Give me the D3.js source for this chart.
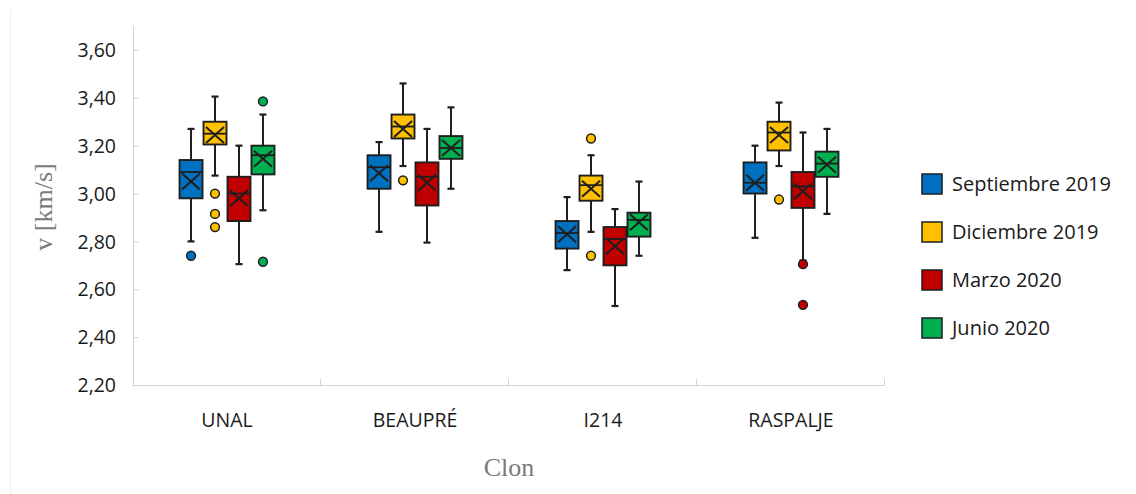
<!DOCTYPE html>
<html>
<head>
<meta charset="utf-8">
<script src="https://cdn.jsdelivr.net/npm/d3@7/dist/d3.min.js"></script>
<style>
  html, body { margin: 0; padding: 0; background: #fff; }
  svg { display: block; }
  .tick-label { font-family: "Open Sans", sans-serif; font-size: 19.5px; fill: #1a1a1a; }
  .legend-label { font-family: "Open Sans", sans-serif; font-size: 20px; fill: #1a1a1a; }
</style>
</head>
<body>
<svg id="chart" width="1136" height="494"></svg>
<script>
// Clones on the x axis
const categories = ["UNAL", "BEAUPRÉ", "I214", "RASPALJE"];
// Measurement campaigns (one box per campaign in each clone group)
const seriesNames = ["Septiembre 2019", "Diciembre 2019", "Marzo 2020", "Junio 2020"];
const seriesColors = ["#0070C0", "#FFC000", "#C00000", "#00B050"];

// Box statistics, rows = campaign, columns = clone (v in km/s)
const whiskerLow = [
  [2.80, 2.84, 2.68, 2.815],
  [3.075, 3.115, 2.84, 3.115],
  [2.705, 2.795, 2.53, 2.72],
  [2.93, 3.02, 2.74, 2.915]
];
const quartile1 = [
  [2.98, 3.02, 2.77, 3.00],
  [3.205, 3.23, 2.97, 3.18],
  [2.885, 2.95, 2.70, 2.94],
  [3.08, 3.145, 2.82, 3.07]
];
const medians = [
  [3.09, 3.11, 2.835, 3.045],
  [3.25, 3.28, 3.035, 3.255],
  [3.00, 3.07, 2.81, 3.03],
  [3.16, 3.19, 2.89, 3.125]
];
const quartile3 = [
  [3.14, 3.16, 2.885, 3.13],
  [3.30, 3.33, 3.075, 3.30],
  [3.07, 3.13, 2.86, 3.09],
  [3.20, 3.24, 2.92, 3.175]
];
const whiskerHigh = [
  [3.27, 3.215, 2.985, 3.20],
  [3.405, 3.46, 3.16, 3.38],
  [3.20, 3.27, 2.935, 3.255],
  [3.33, 3.36, 3.05, 3.27]
];
const means = [
  [3.05, 3.085, 2.83, 3.045],
  [3.245, 3.27, 3.02, 3.245],
  [2.98, 3.045, 2.78, 3.01],
  [3.145, 3.19, 2.88, 3.12]
];
const outliers = [
  [[2.74], [], [], []],
  [[3.00, 2.915, 2.86], [3.055], [3.23, 2.74], [2.975]],
  [[], [], [], [2.705, 2.535]],
  [[3.385, 2.715], [], [], []]
];
const yTickValues = [2.2, 2.4, 2.6, 2.8, 3.0, 3.2, 3.4, 3.6];

const svg = d3.select("#chart");
const W = 1136, H = 494;
const plot = { left: 133, right: 885, top: 26, bottom: 385 };

const x = d3.scaleBand().domain(categories).range([plot.left, plot.right]).padding(0);
const xInner = d3.scaleBand().domain(d3.range(seriesNames.length))
  .range([0, x.bandwidth()]).paddingInner(0).paddingOuter(1.92);
const y = d3.scaleLinear().domain([2.2, 3.7]).range([plot.bottom, plot.top]);

const axisColor = "#d4d4d4";
const ink = "#1e1e1e";

// faint chart-area edge
svg.append("line").attr("x1", 10.5).attr("x2", 10.5).attr("y1", 10).attr("y2", H)
  .attr("stroke", "#efefef").attr("stroke-width", 1);

// Y axis
const yAxis = d3.axisLeft(y).tickValues(yTickValues)
  .tickFormat(d => d3.format(".2f")(d).replace(".", ","))
  .tickSize(-6).tickPadding(17);
const gy = svg.append("g").attr("transform", `translate(${plot.left},0)`).call(yAxis);
gy.select(".domain").remove();
gy.selectAll(".tick line").attr("stroke", axisColor);
gy.selectAll(".tick text").attr("class", "tick-label").attr("dy", "0.34em");
svg.append("line").attr("x1", plot.left + 0.5).attr("x2", plot.left + 0.5)
  .attr("y1", plot.top).attr("y2", plot.bottom).attr("stroke", axisColor);

// X axis with category separators
svg.append("line").attr("x1", plot.left).attr("x2", plot.right)
  .attr("y1", plot.bottom + 0.5).attr("y2", plot.bottom + 0.5).attr("stroke", axisColor);
const bounds = categories.map(c => x(c)).concat([plot.right]);
svg.selectAll(".sep").data(bounds.slice(1)).enter().append("line")
  .attr("x1", d => d - 0.5).attr("x2", d => d - 0.5)
  .attr("y1", plot.bottom - 6).attr("y2", plot.bottom).attr("stroke", axisColor);
svg.selectAll(".cat").data(categories).enter().append("text")
  .attr("class", "tick-label")
  .attr("x", d => x(d) + x.bandwidth() / 2).attr("y", 427)
  .attr("text-anchor", "middle").text(d => d);

// Axis titles
svg.append("text").attr("transform", `translate(52,207) rotate(-90)`)
  .attr("text-anchor", "middle")
  .style("font-family", "'Liberation Serif', 'DejaVu Serif', serif")
  .style("font-size", "26px").style("fill", "#7a7a7a").text("v [km/s]");
svg.append("text").attr("x", (plot.left + plot.right) / 2).attr("y", 476)
  .attr("text-anchor", "middle")
  .style("font-family", "'Liberation Serif', 'DejaVu Serif', serif")
  .style("font-size", "26px").style("fill", "#7a7a7a").text("Clon");

// Boxes
const boxW = xInner.bandwidth() - 1;
const capW = 7;
const items = [];
seriesNames.forEach((s, si) => {
  categories.forEach((c, ci) => {
    items.push({ si, ci, c,
      lo: whiskerLow[si][ci], q1: quartile1[si][ci], med: medians[si][ci],
      q3: quartile3[si][ci], hi: whiskerHigh[si][ci], mean: means[si][ci],
      out: outliers[si][ci] });
  });
});

const g = svg.append("g");
const box = g.selectAll(".box").data(items).enter().append("g")
  .attr("transform", d => `translate(${x(d.c) + xInner(d.si) + xInner.bandwidth() / 2},0)`);

// whiskers
box.append("line").attr("x1", 0).attr("x2", 0)
  .attr("y1", d => y(d.hi)).attr("y2", d => y(d.q3))
  .attr("stroke", ink).attr("stroke-width", 2);
box.append("line").attr("x1", 0).attr("x2", 0)
  .attr("y1", d => y(d.q1)).attr("y2", d => y(d.lo))
  .attr("stroke", ink).attr("stroke-width", 2);
box.append("line").attr("x1", -capW / 2).attr("x2", capW / 2)
  .attr("y1", d => y(d.hi)).attr("y2", d => y(d.hi))
  .attr("stroke", ink).attr("stroke-width", 2.2);
box.append("line").attr("x1", -capW / 2).attr("x2", capW / 2)
  .attr("y1", d => y(d.lo)).attr("y2", d => y(d.lo))
  .attr("stroke", ink).attr("stroke-width", 2.2);

// interquartile box
box.append("rect").attr("x", -boxW / 2).attr("width", boxW)
  .attr("y", d => y(d.q3)).attr("height", d => y(d.q1) - y(d.q3))
  .attr("fill", d => seriesColors[d.si]).attr("stroke", ink).attr("stroke-width", 1.9);
// median
box.append("line").attr("x1", -boxW / 2).attr("x2", boxW / 2)
  .attr("y1", d => y(d.med)).attr("y2", d => y(d.med))
  .attr("stroke", ink).attr("stroke-width", 1.8);
// mean marker (X)
const mx = 9, my = 8;
box.append("path")
  .attr("d", d => {
    const cy = y(d.mean);
    return `M${-mx},${cy - my}L${mx},${cy + my}M${-mx},${cy + my}L${mx},${cy - my}`;
  })
  .attr("stroke", ink).attr("stroke-width", 2).attr("fill", "none");

// outliers
box.each(function(d) {
  d3.select(this).selectAll("circle").data(d.out).enter().append("circle")
    .attr("cx", 0).attr("cy", v => y(v)).attr("r", 4.4)
    .attr("fill", seriesColors[d.si]).attr("stroke", ink).attr("stroke-width", 1.5);
});

// Legend
const legend = svg.append("g").selectAll("g").data(seriesNames).enter().append("g")
  .attr("transform", (d, i) => `translate(922,${184 + i * 48})`);
legend.append("rect").attr("x", 0).attr("y", -10).attr("width", 20).attr("height", 20)
  .attr("fill", (d, i) => seriesColors[i]).attr("stroke", ink).attr("stroke-width", 1.5);
legend.append("text").attr("class", "legend-label").attr("x", 30).attr("y", 0)
  .attr("dy", "0.35em").text(d => d);
</script>
</body>
</html>
